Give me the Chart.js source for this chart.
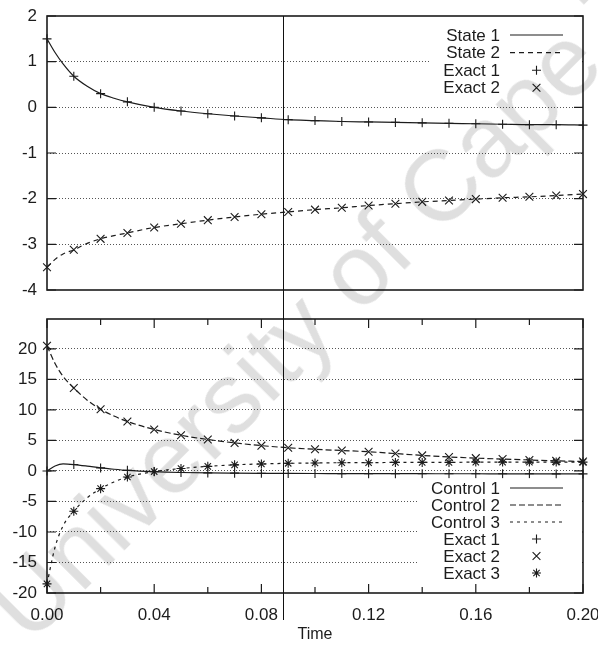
<!DOCTYPE html>
<html>
<head>
<meta charset="utf-8">
<title>States and controls</title>
<script src="https://cdn.jsdelivr.net/npm/chart.js@4.4.1/dist/chart.umd.min.js"></script>
<style>
  body { margin: 0; background: #fff; }
  #figure { position: relative; width: 598px; height: 646px; overflow: hidden; background: #fff; }
  #figure canvas { position: absolute; left: 0; }
  #states { top: 0; }
  #controls { top: 300px; }
  #hairline { position: absolute; left: 283px; top: 16px; width: 1px; height: 604px; background: #111; }
  #stamp {
    position: absolute; left: 40px; top: 556px;
    font: 100px "Liberation Sans", Arial, sans-serif; line-height: 1;
    color: #dfdfdf; white-space: nowrap;
    transform: rotate(-45deg); transform-origin: 0 100%;
    mix-blend-mode: multiply; pointer-events: none;
  }
</style>
</head>
<body>
<div id="figure">
  <canvas id="states" width="598" height="300"></canvas>
  <canvas id="controls" width="598" height="346"></canvas>
  <div id="hairline"></div>
  <div id="stamp">University of Cape Town</div>
</div>
<script>
'use strict';

const FONT = '"Liberation Sans", Arial, Helvetica, sans-serif';
const INK = '#1c1c1c';

// sample times of the exact solution
const markTimes = [0, 0.01, 0.02, 0.03, 0.04, 0.05, 0.06, 0.07, 0.08, 0.09, 0.10,
  0.11, 0.12, 0.13, 0.14, 0.15, 0.16, 0.17, 0.18, 0.19, 0.20];
// times of the computed curves (denser near t = 0)
const curveTimes = [0, 0.003, 0.006, 0.01, 0.015, 0.02, 0.025, 0.03, 0.04, 0.05, 0.06,
  0.07, 0.08, 0.09, 0.10, 0.11, 0.12, 0.13, 0.14, 0.15, 0.16, 0.17, 0.18, 0.19, 0.20];

// states
const state1 = [1.5, 1.2, 0.95, 0.68, 0.46, 0.30, 0.2, 0.12, 0.0, -0.08, -0.14, -0.19, -0.23,
  -0.27, -0.29, -0.31, -0.32, -0.33, -0.34, -0.35, -0.36, -0.37, -0.38, -0.38, -0.39];
const state2 = [-3.5, -3.33, -3.21, -3.12, -2.98, -2.88, -2.81, -2.75, -2.63, -2.55, -2.47, -2.40,
  -2.34, -2.29, -2.24, -2.20, -2.15, -2.11, -2.07, -2.04, -2.01, -1.98, -1.96, -1.93, -1.90];
const exactState1 = [1.5, 0.68, 0.30, 0.12, 0.0, -0.08, -0.14, -0.19, -0.23, -0.27, -0.29,
  -0.31, -0.32, -0.33, -0.34, -0.35, -0.36, -0.37, -0.38, -0.38, -0.39];
const exactState2 = [-3.5, -3.12, -2.88, -2.75, -2.63, -2.55, -2.47, -2.40, -2.34, -2.29, -2.24,
  -2.20, -2.15, -2.11, -2.07, -2.04, -2.01, -1.98, -1.96, -1.93, -1.90];

// controls
const control1 = [0, 0.8, 1.15, 1.05, 0.8, 0.5, 0.28, 0.1, -0.12, -0.25, -0.32, -0.36, -0.39,
  -0.41, -0.42, -0.43, -0.44, -0.45, -0.45, -0.46, -0.46, -0.47, -0.47, -0.48, -0.48];
const control2 = [20.5, 17.6, 15.5, 13.6, 11.6, 10.1, 9.0, 8.1, 6.8, 5.85, 5.15, 4.6, 4.15,
  3.8, 3.55, 3.35, 3.15, 2.85, 2.55, 2.3, 2.1, 1.95, 1.8, 1.65, 1.55];
const control3 = [-18.5, -12.5, -9.0, -6.6, -4.4, -2.9, -1.8, -1.0, -0.1, 0.4, 0.75, 1.0, 1.15,
  1.25, 1.3, 1.35, 1.35, 1.4, 1.4, 1.4, 1.45, 1.45, 1.45, 1.45, 1.45];
const exactControl1 = [0, 1.05, 0.5, 0.1, -0.12, -0.25, -0.32, -0.36, -0.39, -0.41, -0.42,
  -0.43, -0.44, -0.45, -0.45, -0.46, -0.46, -0.47, -0.47, -0.48, -0.48];
const exactControl2 = [20.5, 13.6, 10.1, 8.1, 6.8, 5.85, 5.15, 4.6, 4.15, 3.8, 3.55,
  3.35, 3.15, 2.85, 2.55, 2.3, 2.1, 1.95, 1.8, 1.65, 1.55];
const exactControl3 = [-18.5, -6.6, -2.9, -1.0, -0.1, 0.4, 0.75, 1.0, 1.15, 1.25, 1.3,
  1.35, 1.35, 1.4, 1.4, 1.4, 1.45, 1.45, 1.45, 1.45, 1.45];

// axes
const timeTicks = [0, 0.04, 0.08, 0.12, 0.16, 0.20];
const timeMinorTicks = [0.02, 0.06, 0.10, 0.14, 0.18];
const stateTicks = [-4, -3, -2, -1, 0, 1, 2];
const controlTicks = [-20, -15, -10, -5, 0, 5, 10, 15, 20];

const pts = (xs, ys) => ys.map((y, i) => ({ x: xs[i], y: y }));

function curve(label, xs, ys, dash) {
  return {
    label: label, data: pts(xs, ys), showLine: true,
    borderColor: INK, borderWidth: 1.2, borderDash: dash,
    pointRadius: 0, cubicInterpolationMode: 'monotone', clip: false,
  };
}

function marks(label, ys, style, r) {
  return {
    label: label, data: pts(markTimes, ys), showLine: false,
    pointStyle: style, pointRadius: r, pointBorderColor: INK,
    pointBackgroundColor: 'rgba(0,0,0,0)', pointBorderWidth: 1.1, clip: false,
  };
}

// gnuplot-like frame with inward tick marks
const frame = {
  id: 'frame',
  afterDatasetsDraw(chart, args, opts) {
    const { ctx, chartArea: a, scales } = chart;
    ctx.save();
    ctx.strokeStyle = INK;
    ctx.lineWidth = 1.2;
    ctx.setLineDash([]);
    ctx.beginPath();
    for (const v of opts.yTicks) {
      const y = scales.y.getPixelForValue(v);
      ctx.moveTo(a.left, y); ctx.lineTo(a.left + 9, y);
      ctx.moveTo(a.right, y); ctx.lineTo(a.right - 9, y);
    }
    if (opts.xTicks) {
      const tick = (v, len) => {
        const x = scales.x.getPixelForValue(v);
        ctx.moveTo(x, a.bottom); ctx.lineTo(x, a.bottom - len);
        ctx.moveTo(x, a.top); ctx.lineTo(x, a.top + len);
      };
      opts.xTicks.forEach(v => tick(v, 9));
      opts.xMinor.forEach(v => tick(v, 6));
    }
    ctx.stroke();
    ctx.lineWidth = 1.6;
    ctx.strokeRect(a.left, a.top, a.right - a.left, a.bottom - a.top);
    ctx.restore();
  }
};

// key in the gnuplot style: label on the left, sample on the right
const key = {
  id: 'key',
  afterDatasetsDraw(chart, args, opts) {
    const { ctx, chartArea: a } = chart;
    const sets = chart.data.datasets;
    const rowH = opts.rowHeight;
    const textRight = a.right - 83;
    const sampleL = a.right - 73, sampleR = a.right - 20;
    ctx.save();
    ctx.font = '17px ' + FONT;
    let widest = 0;
    sets.forEach(ds => { widest = Math.max(widest, ctx.measureText(ds.label).width); });
    const first = opts.anchor === 'top'
      ? a.top + opts.offset
      : a.bottom - opts.offset - rowH * (sets.length - 1);
    ctx.fillStyle = '#fff';
    ctx.fillRect(textRight - widest - 14, first - rowH / 2 - 1,
      a.right - 1 - (textRight - widest - 14), rowH * sets.length + 2);
    ctx.fillStyle = INK;
    ctx.strokeStyle = INK;
    ctx.textAlign = 'right';
    ctx.textBaseline = 'middle';
    sets.forEach((ds, i) => {
      const y = first + i * rowH;
      ctx.fillText(ds.label, textRight, y + 1);
      if (ds.showLine) {
        ctx.lineWidth = ds.borderWidth;
        ctx.setLineDash(ds.borderDash || []);
        ctx.beginPath();
        ctx.moveTo(sampleL, y); ctx.lineTo(sampleR, y);
        ctx.stroke();
      } else {
        ctx.setLineDash([]);
        ctx.lineWidth = ds.pointBorderWidth;
        Chart.helpers.drawPoint(ctx, {
          pointStyle: ds.pointStyle, radius: ds.pointRadius, rotation: 0,
          borderWidth: ds.pointBorderWidth
        }, (sampleL + sampleR) / 2, y);
      }
    });
    ctx.restore();
  }
};

function yScale(min, max, ticks) {
  return {
    type: 'linear', min: min, max: max,
    afterBuildTicks: s => { s.ticks = ticks.map(v => ({ value: v })); },
    afterFit: s => { s.width = 47; s.paddingTop = 0; s.paddingBottom = 0; },
    border: { display: false, dash: [1, 2] },
    grid: {
      drawTicks: false, lineWidth: 1,
      color: c => (c.tick && (c.tick.value === min || c.tick.value === max)) ? 'rgba(0,0,0,0)' : '#555',
    },
    ticks: { padding: 10, color: INK, font: { family: FONT, size: 17 }, callback: v => String(v) },
  };
}

const common = {
  responsive: false,
  animation: false,
  events: [],
  plugins: { legend: { display: false }, tooltip: { enabled: false } },
};

new Chart(document.getElementById('states'), {
  type: 'scatter',
  data: {
    datasets: [
      curve('State 1', curveTimes, state1, []),
      curve('State 2', curveTimes, state2, [5, 4]),
      marks('Exact 1', exactState1, 'cross', 4.5),
      marks('Exact 2', exactState2, 'crossRot', 5.5),
    ]
  },
  options: Object.assign({}, common, {
    layout: { padding: { left: 0, right: 15, top: 16, bottom: 10 }, autoPadding: false },
    scales: {
      x: { type: 'linear', min: 0, max: 0.2, display: false },
      y: yScale(-4, 2, stateTicks),
    },
    plugins: Object.assign({}, common.plugins, {
      frame: { yTicks: stateTicks, xTicks: null },
      key: { anchor: 'top', offset: 19, rowHeight: 17.6 },
    }),
  }),
  plugins: [frame, key],
});

new Chart(document.getElementById('controls'), {
  type: 'scatter',
  data: {
    datasets: [
      curve('Control 1', curveTimes, control1, []),
      curve('Control 2', curveTimes, control2, [6, 3]),
      curve('Control 3', curveTimes, control3, [3, 4]),
      marks('Exact 1', exactControl1, 'cross', 4.5),
      marks('Exact 2', exactControl2, 'crossRot', 5.5),
      marks('Exact 3', exactControl3, 'star', 4.5),
    ]
  },
  options: Object.assign({}, common, {
    layout: { padding: { left: 0, right: 15, top: 19, bottom: 0 }, autoPadding: false },
    scales: {
      x: {
        type: 'linear', min: 0, max: 0.2,
        afterBuildTicks: s => { s.ticks = timeTicks.map(v => ({ value: v })); },
        afterFit: s => { s.height = 53; s.paddingLeft = 0; s.paddingRight = 0; },
        border: { display: false },
        grid: { display: false, drawTicks: false },
        ticks: { padding: 12, color: INK, autoSkip: false, maxRotation: 0,
          font: { family: FONT, size: 17 }, callback: v => v.toFixed(2) },
        title: { display: true, text: 'Time', color: INK,
          font: { family: FONT, size: 16 }, padding: { top: 0, bottom: 2 } },
      },
      y: yScale(-20, 24.9, controlTicks),
    },
    plugins: Object.assign({}, common.plugins, {
      frame: { yTicks: controlTicks, xTicks: timeTicks, xMinor: timeMinorTicks },
      key: { anchor: 'bottom', offset: 20, rowHeight: 17 },
    }),
  }),
  plugins: [frame, key],
});
</script>
</body>
</html>
